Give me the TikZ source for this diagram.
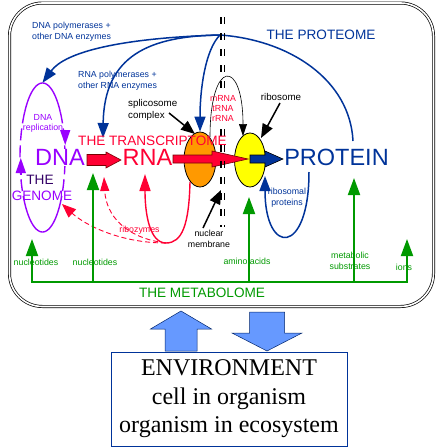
\documentclass[tikz,border=0pt]{standalone}
\usepackage{fontspec}
\setmainfont{Liberation Sans}
\newfontfamily\envfont{Liberation Serif}
\usetikzlibrary{arrows.meta,calc,shapes.geometric}
\definecolor{navy}{RGB}{0,51,153}
\definecolor{purp}{RGB}{153,0,255}
\definecolor{redc}{RGB}{255,0,51}
\definecolor{grn}{RGB}{0,153,0}
\definecolor{orng}{RGB}{255,153,0}
\definecolor{ylw}{RGB}{255,255,0}
\definecolor{lblue}{RGB}{102,153,255}
\definecolor{darkpurp}{RGB}{51,0,102}
\definecolor{darkred}{RGB}{120,0,0}
% horizontal block arrow: #1 start, #2 tip, #3 shaft half, #4 head half, #5 head length, #6 style
\newcommand\hblockarr[6]{%
  \draw[#6] let \p1=(#1), \p2=(#2) in
    (\x1,{\y1+#3}) -- ({\x2-#5},{\y1+#3}) -- ({\x2-#5},{\y1+#4}) -- (\x2,\y1)
    -- ({\x2-#5},{\y1-#4}) -- ({\x2-#5},{\y1-#3}) -- (\x1,{\y1-#3}) -- cycle;}
% vertical block arrow: #5 signed head length (canvas direction)
\newcommand\vblockarr[6]{%
  \draw[#6] let \p1=(#1), \p2=(#2) in
    ({\x1+#3},\y1) -- ({\x1+#3},{\y2-(#5)}) -- ({\x1+#4},{\y2-(#5)}) -- (\x2,\y2)
    -- ({\x1-#4},{\y2-(#5)}) -- ({\x1-#3},{\y2-(#5)}) -- ({\x1-#3},\y1) -- cycle;}
\tikzset{
  small/.style={font=\fontsize{8.8}{10.6}\selectfont, inner sep=0pt, align=center},
  blacklbl/.style={font=\fontsize{9.8}{11.7}\selectfont, inner sep=0pt, align=left},
  mid/.style={font=\fontsize{13.6}{15}\selectfont, inner sep=0pt},
  big/.style={font=\fontsize{23.5}{26}\selectfont, inner sep=0pt},
  cellbox/.style={draw=black, line width=0.7pt, double=white, double distance=1.6pt, rounded corners=33pt, inner sep=0pt},
  purpline/.style={draw=purp, line width=1.4pt},
  purpdash/.style={purpline, dash pattern=on 12pt off 5pt},
  navyline/.style={draw=navy, line width=1.5pt},
  navyarr/.style={navyline, -{Triangle[length=15pt,width=11pt]}},
  purparr/.style={draw=purp, line width=1.4pt, -{Triangle[length=15pt,width=10pt]}},
  redline/.style={draw=redc, line width=1.4pt},
  redarr/.style={redline, -{Triangle[length=17pt,width=11pt]}},
  reddash/.style={draw=redc, line width=0.9pt, dash pattern=on 5pt off 3pt},
  blkarr/.style={draw=black, line width=1.5pt, -{Triangle[length=14pt,width=11pt]}},
  thinblk/.style={draw=black, line width=0.6pt},
  grnline/.style={draw=grn, line width=1.9pt},
  grnarr/.style={grnline, -{Triangle[length=17pt,width=12pt]}},
  membr/.style={draw=black, line width=1.7pt, dash pattern=on 6.7pt off 9.3pt},
}
\begin{document}
\begin{tikzpicture}[x=1pt,y=-1pt]
\useasboundingbox (0,0) rectangle (441,447);

% cell
\node[cellbox, minimum width=424pt, minimum height=303.5pt] (cell) at (221.5,154.75) {};

% ellipses
\node[ellipse, minimum width=45pt, minimum height=149pt, inner sep=0pt] (repl) at (42.5,157.5) {};
\draw[purpline] plot[domain=38:142, samples=40] ({42.5+22.5*cos(\x)}, {157.5-74.5*sin(\x)});
\draw[purpline] plot[domain=212:328, samples=40] ({42.5+22.5*cos(\x)}, {157.5-74.5*sin(\x)});
\draw[purpdash] plot[domain=142:212, samples=40] ({42.5+22.5*cos(\x)}, {157.5-74.5*sin(\x)});
\draw[purpdash] plot[domain=38:-32, samples=40] ({42.5+22.5*cos(\x)}, {157.5-74.5*sin(\x)});
\node[ellipse, draw=black, fill=orng, line width=0.8pt, minimum width=32pt, minimum height=55pt, inner sep=0pt] (splice) at (200,159.5) {};
\node[ellipse, draw=black, fill=ylw, line width=0.8pt, minimum width=31pt, minimum height=54pt, inner sep=0pt] (ribo) at (250,160) {};

% purple loop arrowheads
\draw[purparr] ($(repl.east)+(0,-28)$) -- ($(repl.east)+(0,-12.5)$);
\draw[purparr] ($(repl.west)+(1,17)$) -- ($(repl.west)+(1,0.5)$);

% navy curves
\coordinate (hub) at (220,35);
\coordinate (protTop) at (353,141);
\coordinate (rnapol) at (103,138);
\coordinate (protBot) at (309,172);
\coordinate (riboIn) at (265,176);
\draw[navyline] (protTop) .. controls (350,80) and (290,40) .. (hub);
\draw[navyarr] (hub) .. controls (120,38) and (65,52) .. (repl.north);
\draw[navyarr] (hub) .. controls (205,50) and (200,90) .. (splice.north);
\draw[navyarr] (hub) .. controls (150,36) and (104,55) .. (rnapol);
\draw[navyarr] (protBot) .. controls (309,256) and (265,256) .. (riboIn);

% black arrows
\coordinate (splS) at (169,113);
\coordinate (splT) at (195,134);
\coordinate (ribS) at (280,103);
\coordinate (ribT) at (261,138);
\coordinate (memS) at (203,228);
\coordinate (memT) at (221,190);
\draw[blkarr] (splS) -- (splT);
\draw[blkarr] (ribS) -- (ribT);
\draw[blkarr] (memS) -- (memT);

% red curves
\coordinate (rstart) at (190,182);
\coordinate (rbot) at (166,243);
\coordinate (rnaIn) at (145,174);
\coordinate (dnaIn) at (62,204);
\coordinate (nucIn) at (104,177);
\draw[redline] (rstart) .. controls (189,225) and (182,243) .. (rbot);
\draw[redarr] (rbot) .. controls (150,243) and (145,215) .. (rnaIn);
\draw[reddash, -{Triangle[length=14pt,width=11pt]}] (rbot) .. controls (120,243) and (85,225) .. (dnaIn);
\draw[reddash, -{Triangle[length=14pt,width=9pt]}] (rbot) .. controls (125,238) and (106,215) .. (nucIn);

% green metabolome bus
\coordinate (bus1) at (32,282);
\coordinate (bus2) at (93,282);
\coordinate (bus3) at (249,282);
\coordinate (bus4) at (354,282);
\coordinate (bus5) at (407,282);
\coordinate (tip1) at (32,239);
\coordinate (tip2) at (93,173);
\coordinate (tip3) at (249,197);
\coordinate (tip4) at (354,178);
\coordinate (tip5) at (407,239);
\draw[grnline, line cap=rect] (bus1) -- (bus5);
\draw[grnarr] (bus1) -- (tip1);
\draw[grnarr] (bus2) -- (tip2);
\draw[grnarr] (bus3) -- (tip3);
\draw[grnarr] (bus4) -- (tip4);
\draw[grnarr] (bus5) -- (tip5);

% block arrows
\coordinate (a1s) at (87,160);
\coordinate (a1e) at (121,160);
\coordinate (a2s) at (173,159);
\coordinate (a2e) at (248,159);
\coordinate (a3s) at (250,159);
\coordinate (a3e) at (283,159);
\hblockarr{a1s}{a1e}{5.5pt}{8pt}{15pt}{fill=redc, draw=darkred, line width=0.6pt}
\hblockarr{a2s}{a2e}{4pt}{8pt}{36pt}{fill=redc, draw=darkred, line width=0.6pt}
\hblockarr{a3s}{a3e}{4pt}{8pt}{18pt}{fill=navy, draw=black, line width=0.6pt}

% nuclear membrane
\coordinate (memTop1) at (221,17);
\coordinate (memBot1) at (221,227);
\coordinate (memTop2) at (224.5,17);
\coordinate (memBot2) at (224.5,227);
\draw[membr] (memTop1) -- (memBot1);
\draw[membr] (memTop2) -- (memBot2);

% RNA species label over the membrane, then the arch
\node[small, redc, fill=white, inner sep=0.6pt, font=\fontsize{8.8}{10}\selectfont] (rnas) at (223,108.5) {mRNA\\tRNA\\rRNA};
\coordinate (archL) at (210,137);
\coordinate (archR) at (243,136);
\draw[thinblk, -{Triangle[length=12pt,width=8pt]}] (archL) .. controls (210,58) and (243,58) .. (archR);

% texts
\node[small, navy, align=left, anchor=west] (dnapol) at (32,32) {DNA polymerases +\\other DNA enzymes};
\node[mid, navy] (proteome) at (321,35) {THE PROTEOME};
\node[small, navy, align=left, anchor=west] (rnapoltxt) at (78,81) {RNA polymerases +\\other RNA enzymes};
\node[blacklbl, anchor=west] (spltxt) at (128,110) {splicosome\\complex};
\node[blacklbl] (ribtxt) at (281,97) {ribosome};
\node[small, purp] (repltxt) at (43,123.5) {DNA\\replication};
\node[mid, redc] (transcr) at (152.5,141) {THE TRANSCRIPTOME};
\node[big, purp, fill=white] (dna) at (60,157.5) {DNA};
\node[big, redc] (rna) at (147.5,157.5) {RNA};
\node[big, navy] (protein) at (336.5,157.5) {PROTEIN};
\node[mid, darkpurp] (the) at (40,179.5) {THE};
\node[mid, purp] (genome) at (42,196) {GENOME};
\node[small, redc] (ribozymes) at (139.5,230) {ribozymes};
\node[small] (nuclear) at (209,239) {nuclear\\membrane};
\node[small, navy] (ribprot) at (287,198) {ribosomal\\proteins};
\node[small, grn] (nuc1) at (36,262) {nucleotides};
\node[small, grn] (nuc2) at (95,262) {nucleotides};
\node[small, grn] (amino) at (247,261) {amino acids};
\node[small, grn] (metab) at (350,261) {metabolic\\substrates};
\node[small, grn] (ions) at (404,267) {ions};
\node[mid, grn] (metabolome) at (202,293) {THE METABOLOME};

% environment
\node[draw=navy, line width=0.9pt, minimum width=236pt, minimum height=94pt, inner sep=0pt, align=center,
      font=\envfont\fontsize{24}{28.5}\selectfont] (env) at (229,399) {ENVIRONMENT\\cell in organism\\organism in ecosystem};
\coordinate (upS) at (181,351);
\coordinate (upT) at (181,311);
\coordinate (dnS) at (267,312);
\coordinate (dnT) at (267,351);
\vblockarr{upS}{upT}{16pt}{30.5pt}{18pt}{fill=lblue, draw=navy!70!black, line width=0.5pt}
\vblockarr{dnS}{dnT}{17.5pt}{35pt}{-18pt}{fill=lblue, draw=navy!70!black, line width=0.5pt}
\end{tikzpicture}
\end{document}
